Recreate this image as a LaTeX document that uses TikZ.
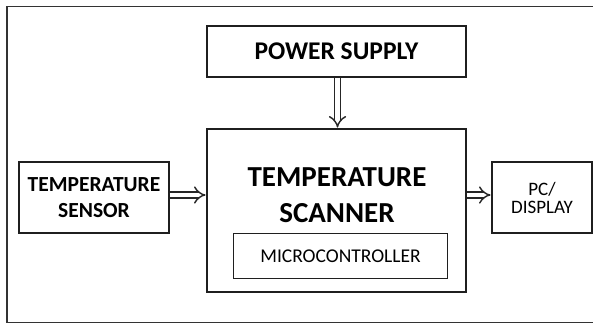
\documentclass[tikz,border=0pt]{standalone}
\usepackage{fontspec}
\setmainfont{Carlito}
\usetikzlibrary{arrows.meta}
\begin{document}
\begin{tikzpicture}[x=1pt,y=-1pt,
  blk/.style={draw=black!88,line width=1.8pt,inner sep=0pt,align=center},
  conn/.style={draw=black!85,line width=1.4pt,double=white,double distance=4.6pt,-{Implies[length=7.5pt,width=17pt]},shorten >=0.5pt}]
\useasboundingbox (0,0) rectangle (593,324);
\draw[black!80,line width=1.3pt] (593.5,6.5) -- (7,6.5) -- (7,322.8) -- (593.5,322.8);
\node[blk,minimum width=259pt,minimum height=51pt,font=\fontsize{25.5}{28}\selectfont\bfseries] (ps) at (336.5,51.5)
  {POWER SUPPLY};
\node[blk,minimum width=259pt,minimum height=163pt] (main) at (336.5,210.5) {};
\node[align=center,inner sep=0pt,font=\fontsize{29}{35.7}\selectfont\bfseries] (title) at (337,195)
  {TEMPERATURE\\ SCANNER};
\node[blk,minimum width=214pt,minimum height=45pt,font=\fontsize{19.5}{22}\selectfont] (mc) at (340.5,256)
  {MICROCONTROLLER};
\node[blk,minimum width=150pt,minimum height=71pt,font=\fontsize{21.5}{26.5}\selectfont\bfseries] (sensor) at (94,197.5)
  {TEMPERATURE\\ SENSOR};
\node[blk,minimum width=100pt,minimum height=71pt,font=\fontsize{19}{18}\selectfont] (pc) at (542,197.5)
  {PC/\\ DISPLAY};
\draw[conn] (ps.south -| 337.5,0) -- (main.north -| 337.5,0);
\draw[conn] (sensor.east |- 0,195) -- (main.west |- 0,195);
\draw[conn] (main.east |- 0,195) -- (pc.west |- 0,195);
\end{tikzpicture}
\end{document}
